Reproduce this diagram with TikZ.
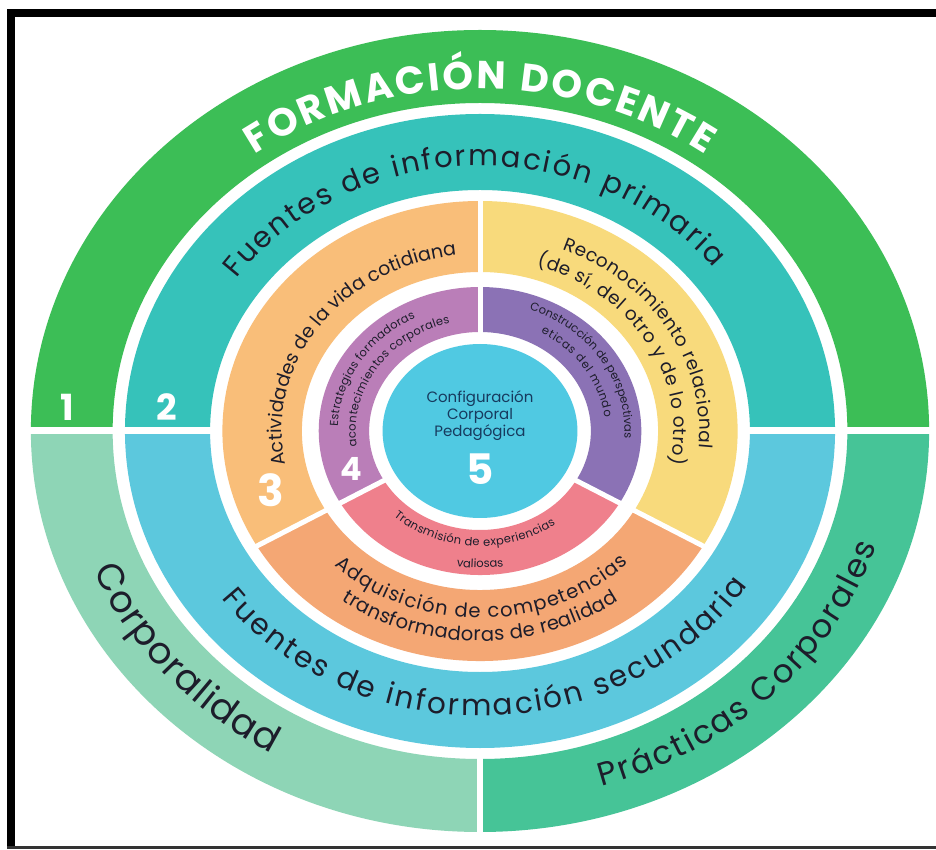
\documentclass[tikz,border=0pt]{standalone}
\usepackage{fontspec}
\setmainfont{Poppins}
\usetikzlibrary{decorations.text}
\definecolor{gA}{HTML}{3CBE56}
\definecolor{gB}{HTML}{8ED5B6}
\definecolor{gC}{HTML}{46C497}
\definecolor{tA}{HTML}{36C2BA}
\definecolor{tB}{HTML}{5CC8DD}
\definecolor{oA}{HTML}{F9BE79}
\definecolor{yA}{HTML}{F8DA7C}
\definecolor{oB}{HTML}{F4A774}
\definecolor{pA}{HTML}{BA7EB8}
\definecolor{pB}{HTML}{8B72B5}
\definecolor{pC}{HTML}{EF808C}
\definecolor{cA}{HTML}{50C9E2}
\definecolor{ink}{HTML}{1D1D2B}
\definecolor{navy}{HTML}{173A5E}
% color, a1, a2, rin, rout
\newcommand{\ringsec}[5]{\fill[#1] (#2:{1.12*#5} and {#5}) arc[start angle=#2, end angle=#3, x radius={1.12*#5}, y radius={#5}] -- (#3:{1.12*#4} and {#4}) arc[start angle=#3, end angle=#2, x radius={1.12*#4}, y radius={#4}] -- cycle;}
% font, color, radius, a1, a2, text
\newcommand{\arctxt}[6]{\path[decorate, decoration={text along path, text align={fit to path}, text color=#2, text={|#1|#6}}] (#4:{1.12*#3} and {#3}) arc[start angle=#4, end angle=#5, x radius={1.12*#3}, y radius={#3}];}
\newcommand{\radline}[3]{\draw[white, line width=5] (#1:{1.12*#2} and {#2}) -- (#1:{1.12*#3} and {#3});}
\tikzset{num/.style={text=white, font=\bfseries\fontsize{#1}{#1}\selectfont, inner sep=0}}
\begin{document}
\begin{tikzpicture}[x=1pt,y=1pt]
\useasboundingbox (0,0) rectangle (936,849);
\fill[white] (0,0) rectangle (936,849);
\coordinate (c) at (480,418);
\begin{scope}[shift={(c)}]
  % ring 1
  \ringsec{gA}{0}{180}{328}{401}
  \ringsec{gB}{180}{270}{328}{401}
  \ringsec{gC}{270}{360}{328}{401}
  % ring 2
  \ringsec{tA}{0}{180}{241}{317}
  \ringsec{tB}{180}{360}{241}{317}
  % ring 3
  \ringsec{oA}{90}{210}{159}{230}
  \ringsec{yA}{-30}{90}{159}{230}
  \ringsec{oB}{210}{330}{159}{230}
  % ring 4
  \ringsec{pA}{90}{210}{99}{144}
  \ringsec{pB}{-30}{90}{99}{144}
  \ringsec{pC}{210}{330}{99}{144}
  % centre
  \fill[cA] (0,0) ellipse [x radius={1.12*87}, y radius=87];
  % dividers
  \draw[white, line width=7] (-452,0) -- (-262,0);
  \draw[white, line width=7] (262,0) -- (452,0);
  \draw[white, line width=6] (0,-320) -- (0,-405);
  \radline{90}{92}{236}
  \radline{210}{92}{236}
  \radline{330}{92}{236}
  % ring texts
  \arctxt{\bfseries\fontsize{39}{39}\selectfont}{white}{342}{126}{54}{FORMACIÓN DOCENTE}
  \arctxt{\fontsize{29}{29}\selectfont}{ink}{265}{145}{38}{Fuentes de información primaria}
  \arctxt{\fontsize{29.5}{29.5}\selectfont}{ink}{285}{216}{327}{Fuentes de información secundaria}
  \arctxt{\fontsize{37}{37}\selectfont}{ink}{372}{202}{240}{Corporalidad}
  \arctxt{\fontsize{32.5}{32.5}\selectfont}{ink}{372}{287}{342}{Prácticas Corporales}
  \arctxt{\fontsize{19}{19}\selectfont}{ink}{177}{191}{97}{Actividades de la vida cotidiana}
  \arctxt{\fontsize{18.5}{18.5}\selectfont}{ink}{196}{68}{-5}{Reconocimiento relacional}
  \arctxt{\fontsize{18.5}{18.5}\selectfont}{ink}{173}{73}{-11}{(de sí, del otro y de lo otro)}
  \arctxt{\fontsize{19.5}{19.5}\selectfont}{ink}{187}{226}{315}{Adquisición de competencias}
  \arctxt{\fontsize{19.5}{19.5}\selectfont}{ink}{210}{234}{306}{transformadoras de realidad}
  \arctxt{\fontsize{11.5}{11.5}\selectfont}{ink}{127}{178}{117}{Estrategias formadoras}
  \arctxt{\fontsize{11.5}{11.5}\selectfont}{ink}{111}{188}{104}{acontecimientos corporales}
  \arctxt{\fontsize{11.5}{11.5}\selectfont}{ink}{129}{70}{-3}{Construcción de perspectivas}
  \arctxt{\fontsize{11.5}{11.5}\selectfont}{ink}{112}{61}{7}{eticas del mundo}
  \arctxt{\fontsize{11.5}{11.5}\selectfont}{ink}{115}{228}{306}{Transmisión de experiencias}
  \path[decorate, decoration={text along path, text align=center, text color=ink, text={|\fontsize{11.5}{11.5}\selectfont|valiosas}}] (240:{1.12*137} and 137) arc[start angle=240, end angle=300, x radius={1.12*137}, y radius=137];
\end{scope}
% frame
\fill[black] (7,832) rectangle (936,840);
\fill[black] (7,0) rectangle (15,840);
\fill[black!80] (7,0) rectangle (936,3);
% numbers
\node[num=36] (n1) at (67,442) {1};
\node[num=36] (n2) at (167,442) {2};
\node[num=44] (n3) at (271,359) {3};
\node[num=32] (n4) at (351,380) {4};
\node[num=42] (n5) at (480,380) {5};
\node[align=center, text=navy, font=\fontsize{15}{17}\selectfont, inner sep=0] (ctr) at (480,433) {Configuración\\Corporal\\Pedagógica};
\end{tikzpicture}
\end{document}
